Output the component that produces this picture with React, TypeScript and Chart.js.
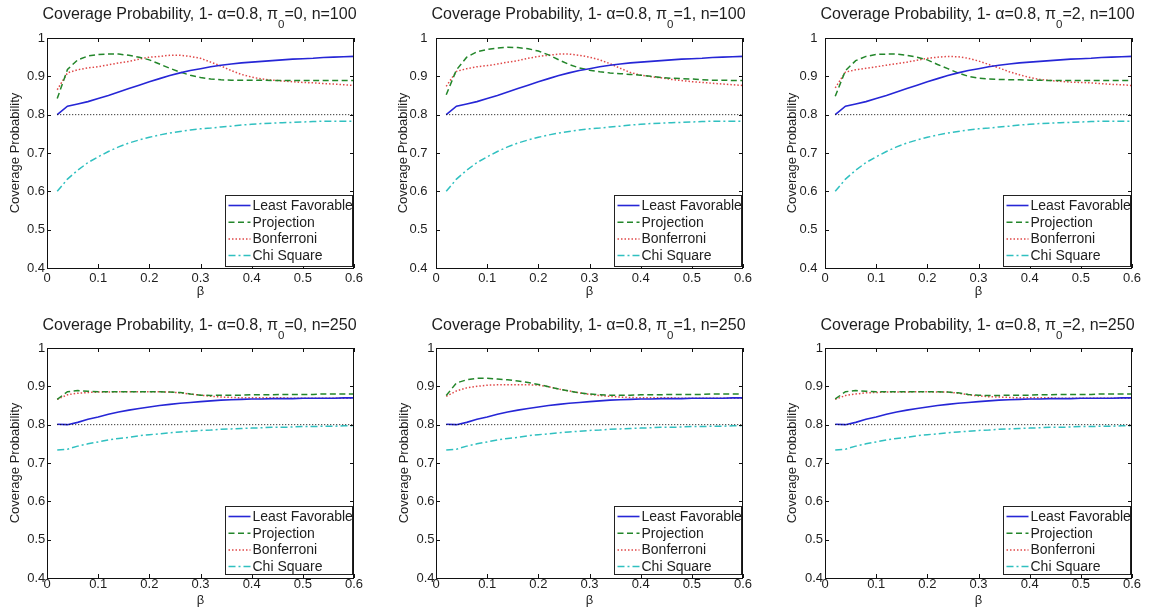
import React, { useEffect, useRef } from 'react';
import { Chart, registerables } from 'chart.js';

Chart.register(...registerables);

// ---------------- data ----------------
const BETA = [0.02, 0.04, 0.06, 0.08, 0.10, 0.12, 0.14, 0.16, 0.18, 0.20, 0.22, 0.24, 0.26, 0.28, 0.30,
  0.32, 0.34, 0.36, 0.38, 0.40, 0.42, 0.44, 0.46, 0.48, 0.50, 0.52, 0.54, 0.56, 0.58, 0.60];
const NOMINAL = 0.8;
const X_TICKS = [0, 0.1, 0.2, 0.3, 0.4, 0.5, 0.6];
const Y_TICKS = [0.4, 0.5, 0.6, 0.7, 0.8, 0.9, 1];
const SERIES_LABELS = ['Least Favorable', 'Projection', 'Bonferroni', 'Chi Square'];
const PI0_VALUES = [0, 1, 2];
const N_VALUES = [100, 250];

const LF_N100 = [0.800, 0.822, 0.828, 0.834, 0.842, 0.850, 0.859, 0.868, 0.877, 0.886, 0.894, 0.902, 0.909, 0.915, 0.920,
  0.925, 0.929, 0.932, 0.935, 0.937, 0.939, 0.941, 0.943, 0.945, 0.946, 0.947, 0.949, 0.950, 0.951, 0.952];
const CHI_N100 = [0.600, 0.632, 0.655, 0.675, 0.690, 0.704, 0.716, 0.726, 0.734, 0.741, 0.747, 0.752, 0.756, 0.760, 0.763,
  0.765, 0.768, 0.770, 0.773, 0.775, 0.777, 0.778, 0.779, 0.780, 0.781, 0.782, 0.783, 0.783, 0.783, 0.783];
const PROJ_PI0_N100 = [0.842, 0.918, 0.943, 0.953, 0.957, 0.958, 0.958, 0.955, 0.950, 0.943, 0.932, 0.921, 0.911, 0.903, 0.897,
  0.893, 0.891, 0.890, 0.890, 0.890, 0.890, 0.889, 0.889, 0.889, 0.889, 0.889, 0.889, 0.889, 0.889, 0.889];
const BONF_PI0_N100 = [0.865, 0.909, 0.917, 0.922, 0.925, 0.930, 0.935, 0.939, 0.945, 0.950, 0.952, 0.955, 0.955, 0.952, 0.947,
  0.937, 0.927, 0.915, 0.905, 0.898, 0.893, 0.890, 0.888, 0.886, 0.884, 0.883, 0.881, 0.880, 0.878, 0.876];
const PROJ_PI1_N100 = [0.852, 0.917, 0.950, 0.964, 0.970, 0.974, 0.976, 0.975, 0.972, 0.966, 0.956, 0.943, 0.931, 0.922, 0.916,
  0.912, 0.909, 0.907, 0.905, 0.903, 0.900, 0.897, 0.895, 0.894, 0.893, 0.891, 0.890, 0.890, 0.889, 0.889];
const BONF_PI1_N100 = [0.874, 0.913, 0.920, 0.925, 0.928, 0.932, 0.937, 0.941, 0.947, 0.952, 0.955, 0.958, 0.958, 0.955, 0.950,
  0.943, 0.933, 0.921, 0.910, 0.903, 0.899, 0.896, 0.892, 0.889, 0.886, 0.884, 0.882, 0.880, 0.878, 0.876];
const PROJ_PI2_N100 = [0.848, 0.915, 0.941, 0.952, 0.957, 0.958, 0.958, 0.955, 0.950, 0.943, 0.931, 0.920, 0.909, 0.900, 0.895,
  0.893, 0.892, 0.891, 0.891, 0.890, 0.890, 0.889, 0.889, 0.889, 0.889, 0.889, 0.889, 0.889, 0.889, 0.889];
const BONF_PI2_N100 = [0.870, 0.911, 0.917, 0.921, 0.925, 0.929, 0.933, 0.937, 0.942, 0.947, 0.950, 0.952, 0.951, 0.947, 0.940,
  0.931, 0.922, 0.912, 0.904, 0.897, 0.892, 0.889, 0.887, 0.885, 0.884, 0.883, 0.881, 0.879, 0.878, 0.876];

const LF_N250 = [0.801, 0.800, 0.806, 0.814, 0.820, 0.827, 0.833, 0.838, 0.842, 0.846, 0.850, 0.853, 0.856, 0.858, 0.860,
  0.862, 0.864, 0.865, 0.866, 0.867, 0.867, 0.868, 0.868, 0.868, 0.869, 0.869, 0.869, 0.869, 0.870, 0.870];
const CHI_N250 = [0.734, 0.736, 0.744, 0.750, 0.755, 0.760, 0.764, 0.767, 0.771, 0.774, 0.776, 0.779, 0.781, 0.783, 0.785,
  0.786, 0.788, 0.789, 0.790, 0.791, 0.792, 0.793, 0.793, 0.794, 0.795, 0.795, 0.796, 0.796, 0.797, 0.797];
const PROJ_PI0_N250 = [0.866, 0.886, 0.889, 0.887, 0.886, 0.886, 0.886, 0.886, 0.886, 0.886, 0.886, 0.885, 0.884, 0.880, 0.877,
  0.876, 0.877, 0.877, 0.877, 0.878, 0.878, 0.878, 0.879, 0.879, 0.879, 0.879, 0.880, 0.880, 0.880, 0.880];
const BONF_PI0_N250 = [0.866, 0.878, 0.882, 0.884, 0.885, 0.885, 0.886, 0.886, 0.886, 0.886, 0.886, 0.885, 0.883, 0.880, 0.877,
  0.874, 0.872, 0.871, 0.870, 0.870, 0.870, 0.870, 0.870, 0.869, 0.869, 0.869, 0.869, 0.869, 0.869, 0.869];
const PROJ_PI1_N250 = [0.876, 0.909, 0.917, 0.921, 0.921, 0.919, 0.917, 0.914, 0.910, 0.905, 0.899, 0.893, 0.888, 0.883, 0.880,
  0.878, 0.877, 0.877, 0.877, 0.878, 0.878, 0.878, 0.879, 0.879, 0.879, 0.879, 0.880, 0.880, 0.880, 0.880];
const BONF_PI1_N250 = [0.874, 0.888, 0.896, 0.900, 0.903, 0.904, 0.904, 0.904, 0.904, 0.903, 0.899, 0.893, 0.888, 0.883, 0.879,
  0.876, 0.874, 0.872, 0.871, 0.870, 0.870, 0.870, 0.870, 0.869, 0.869, 0.869, 0.869, 0.869, 0.869, 0.869];
const PROJ_PI2_N250 = [0.867, 0.886, 0.889, 0.887, 0.886, 0.886, 0.886, 0.886, 0.886, 0.886, 0.886, 0.885, 0.883, 0.879, 0.877,
  0.876, 0.876, 0.877, 0.877, 0.877, 0.878, 0.878, 0.879, 0.879, 0.879, 0.879, 0.880, 0.880, 0.880, 0.880];
const BONF_PI2_N250 = [0.866, 0.876, 0.880, 0.883, 0.884, 0.885, 0.885, 0.885, 0.886, 0.886, 0.885, 0.885, 0.882, 0.878, 0.875,
  0.873, 0.872, 0.871, 0.870, 0.870, 0.870, 0.870, 0.869, 0.869, 0.869, 0.869, 0.869, 0.869, 0.869, 0.869];

// series per panel: [row][col] -> [LF, Projection, Bonferroni, Chi]
const PANEL_SERIES = [
  [
    [LF_N100, PROJ_PI0_N100, BONF_PI0_N100, CHI_N100],
    [LF_N100, PROJ_PI1_N100, BONF_PI1_N100, CHI_N100],
    [LF_N100, PROJ_PI2_N100, BONF_PI2_N100, CHI_N100],
  ],
  [
    [LF_N250, PROJ_PI0_N250, BONF_PI0_N250, CHI_N250],
    [LF_N250, PROJ_PI1_N250, BONF_PI1_N250, CHI_N250],
    [LF_N250, PROJ_PI2_N250, BONF_PI2_N250, CHI_N250],
  ],
];

// ---------------- styles & layout ----------------
const FONT = '"Liberation Sans", Arial, Helvetica, sans-serif';
const TEXT = '#1e1e1e';
const STYLES = [
  { color: '#2626d6', dash: [] as number[], width: 1.6 },
  { color: '#23862a', dash: [6, 3.5], width: 1.5 },
  { color: '#e04848', dash: [1.5, 2], width: 1.5 },
  { color: '#30c0c0', dash: [7, 3, 2, 3], width: 1.5 },
];

const COLS = [
  { left: 0, width: 383, plotL: 47, plotR: 354 },
  { left: 383, width: 385, plotL: 53, plotR: 360 },
  { left: 768, width: 383, plotL: 57, plotR: 364 },
];
const ROWS = [
  { top: 0, height: 305, plotT: 38, plotB: 268, xAxisH: 33, xTickPad: 3, xTitlePad: 2, titleBase: 19, legH: 71, legGapB: 2 },
  { top: 305, height: 308, plotT: 43, plotB: 273, xAxisH: 30, xTickPad: -1.5, xTitlePad: 0, titleBase: 25, legH: 68, legGapB: 4 },
];
const Y_TICK_PAD = [[2, 8.5, 7.5], [1.7, 1.5, 2]];
const Y_TITLE_CENTER = [[15, 20.3, 24.3], [15.7, 21, 24]];

const fmtTick = (v: any) => `${+(+v).toFixed(2)}`;

function makePlugin(row: number, col: number) {
  const R = ROWS[row];
  return {
    id: 'matlabFrame' + row + col,
    afterDatasetsDraw(chart: any) {
      const ctx = chart.ctx as CanvasRenderingContext2D;
      const ca = chart.chartArea;
      const xs = chart.scales.x;
      const ys = chart.scales.y;
      ctx.save();
      // frame
      ctx.strokeStyle = '#111';
      ctx.lineWidth = 1;
      ctx.setLineDash([]);
      ctx.strokeRect(Math.round(ca.left) + 0.5, Math.round(ca.top) + 0.5, Math.round(ca.right - ca.left) - 1, Math.round(ca.bottom - ca.top));
      // inward ticks
      const TL = 4;
      ctx.beginPath();
      X_TICKS.forEach((v) => {
        const px = Math.round(xs.getPixelForValue(v)) + 0.5;
        ctx.moveTo(px, ca.bottom); ctx.lineTo(px, ca.bottom - TL);
        ctx.moveTo(px, ca.top); ctx.lineTo(px, ca.top + TL);
      });
      Y_TICKS.forEach((v) => {
        const py = Math.round(ys.getPixelForValue(v)) + 0.5;
        ctx.moveTo(ca.left, py); ctx.lineTo(ca.left + TL, py);
        ctx.moveTo(ca.right, py); ctx.lineTo(ca.right - TL, py);
      });
      ctx.stroke();

      // legend
      const w = 127;
      const h = R.legH;
      const bx = Math.round(ca.right - 2.5 - w) + 0.5;
      const by = Math.round(ca.bottom - R.legGapB - h) + 0.5;
      ctx.fillStyle = '#fff';
      ctx.fillRect(bx, by, w, h);
      ctx.strokeStyle = '#222';
      ctx.strokeRect(bx, by, w, h);
      ctx.font = `14px ${FONT}`;
      ctx.textBaseline = 'middle';
      ctx.textAlign = 'left';
      SERIES_LABELS.forEach((label, i) => {
        const cy = by + 10 + i * 16.7;
        const st = STYLES[i];
        ctx.beginPath();
        ctx.strokeStyle = st.color;
        ctx.lineWidth = st.width;
        ctx.setLineDash(st.dash);
        ctx.moveTo(bx + 3, cy); ctx.lineTo(bx + 25, cy);
        ctx.stroke();
        ctx.setLineDash([]);
        ctx.fillStyle = TEXT;
        ctx.fillText(label, bx + 27, cy + 0.5);
      });

      // title with subscript
      const pi0 = PI0_VALUES[col];
      const n = N_VALUES[row];
      const parts = [
        { t: `Coverage Probability, 1- \u03b1=${NOMINAL}, \u03c0`, size: 16, dy: 0 },
        { t: '0', size: 11.5, dy: 9 },
        { t: `=${pi0}, n=${n}`, size: 16, dy: 0 },
      ];
      let total = 0;
      parts.forEach((p) => { ctx.font = `${p.size}px ${FONT}`; total += ctx.measureText(p.t).width; });
      let x = (ca.left + ca.right) / 2 - 1 - total / 2;
      ctx.textBaseline = 'alphabetic';
      ctx.fillStyle = TEXT;
      parts.forEach((p) => {
        ctx.font = `${p.size}px ${FONT}`;
        ctx.fillText(p.t, x, R.titleBase + p.dy);
        x += ctx.measureText(p.t).width;
      });
      ctx.restore();
    },
  };
}

function Panel({ row, col }: { row: number; col: number }) {
  const ref = useRef<HTMLCanvasElement>(null);
  const C = COLS[col];
  const R = ROWS[row];
  useEffect(() => {
    if (!ref.current) return;
    const series = PANEL_SERIES[row][col];
    const datasets: any[] = series.map((vals, i) => ({
      label: SERIES_LABELS[i],
      data: BETA.map((b, j) => ({ x: b, y: vals[j] })),
      borderColor: STYLES[i].color,
      borderDash: STYLES[i].dash,
      borderWidth: STYLES[i].width,
      pointRadius: 0,
      tension: 0,
      fill: false,
    }));
    datasets.unshift({
      label: 'nominal',
      data: [{ x: BETA[0], y: NOMINAL }, { x: BETA[BETA.length - 1], y: NOMINAL }],
      borderColor: '#000',
      borderDash: [1, 2],
      borderWidth: 1,
      pointRadius: 0,
      fill: false,
    });
    const tickFont = { family: FONT, size: 13 };
    const chart = new Chart(ref.current, {
      type: 'line',
      data: { datasets },
      options: {
        responsive: false,
        animation: false,
        devicePixelRatio: 1,
        events: [],
        layout: {
          padding: {
            left: 0,
            right: C.width - C.plotR,
            top: R.plotT,
            bottom: R.height - R.plotB - R.xAxisH,
          },
        },
        plugins: { legend: { display: false }, title: { display: false }, tooltip: { enabled: false } },
        scales: {
          x: {
            type: 'linear',
            min: 0,
            max: 0.6,
            afterBuildTicks: (s: any) => { s.ticks = X_TICKS.map((v) => ({ value: v })); },
            ticks: { font: tickFont, color: TEXT, padding: R.xTickPad, autoSkip: false, maxRotation: 0, callback: fmtTick },
            grid: { display: false, drawTicks: false },
            border: { display: false },
            title: { display: true, text: '\u03b2', font: tickFont, color: TEXT, padding: { top: 0, bottom: R.xTitlePad } },
            afterFit: (s: any) => { s.height = R.xAxisH; },
          },
          y: {
            type: 'linear',
            min: 0.4,
            max: 1,
            afterBuildTicks: (s: any) => { s.ticks = Y_TICKS.map((v) => ({ value: v })); },
            ticks: { font: tickFont, color: TEXT, padding: Y_TICK_PAD[row][col], autoSkip: false, callback: fmtTick },
            grid: { display: false, drawTicks: false },
            border: { display: false },
            title: {
              display: true, text: 'Coverage Probability', font: tickFont, color: TEXT,
              padding: { top: Y_TITLE_CENTER[row][col] - 7.8, bottom: 0 },
            },
            afterFit: (s: any) => { s.width = C.plotL; },
          },
        },
      } as any,
      plugins: [makePlugin(row, col)],
    });
    return () => chart.destroy();
  }, [row, col]);
  return (
    <canvas
      ref={ref}
      width={C.width}
      height={R.height}
      style={{ position: 'absolute', left: C.left, top: R.top, width: C.width, height: R.height }}
    />
  );
}

export default function App() {
  return (
    <div style={{ position: 'absolute', left: 0, top: 0, width: 1151, height: 613, background: '#fff', overflow: 'hidden' }}>
      {[0, 1].map((r) => [0, 1, 2].map((c) => <Panel key={`${r}-${c}`} row={r} col={c} />))}
    </div>
  );
}
